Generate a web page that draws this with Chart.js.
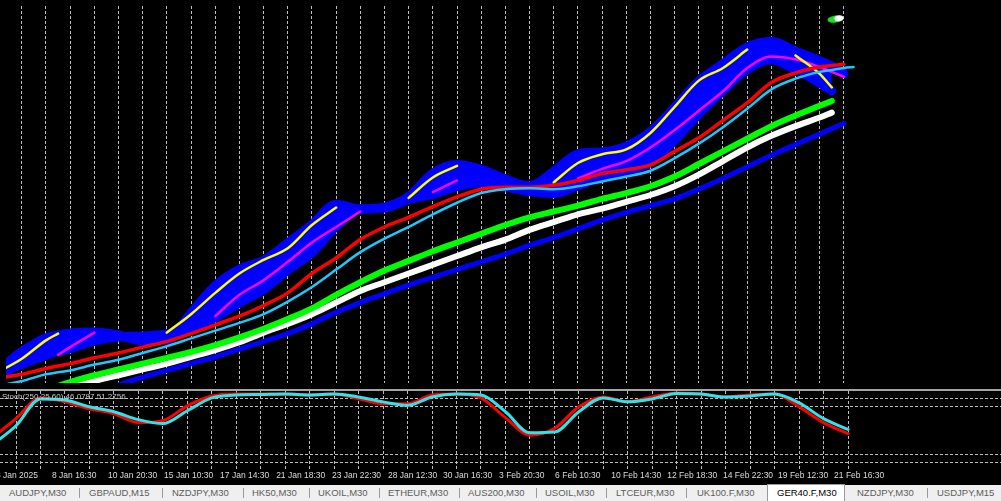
<!DOCTYPE html>
<html>
<head>
<meta charset="utf-8">
<script src="https://cdn.jsdelivr.net/npm/chart.js@4.4.1/dist/chart.umd.min.js"></script>
<style>
  html, body { margin:0; padding:0; background:#000; }
  #wrap { position:relative; width:1001px; height:501px; overflow:hidden; background:#000; }
  canvas { position:absolute; left:0; }
  #sep { position:absolute; left:0; top:389px; width:1001px; height:2px; background:#a4a4a4; }
  #stochLabel { position:absolute; left:2px; top:391px; font:8px "Liberation Sans", Arial, sans-serif; color:#c8c8c8; white-space:nowrap; line-height:12px; }
  #tabs { position:absolute; left:0; top:485px; width:1001px; height:16px; background:#efefef; font:9.5px "Liberation Sans", Arial, sans-serif; color:#5c5c5c; }
  #tabs .t { position:absolute; top:0; line-height:16px; white-space:nowrap; }
  #tabs .s { position:absolute; top:3px; width:1px; height:10px; background:#9a9a9a; }
  #tabs .a { position:absolute; top:-1px; height:17px; background:#fff; border:1px solid #9a9a9a; border-bottom:none; box-sizing:border-box; }
</style>
</head>
<body>
<div id="wrap">
  <canvas id="main" width="1001" height="389" style="top:0"></canvas>
  <div id="sep"></div>
  <canvas id="stoch" width="1001" height="93" style="top:391px"></canvas>
  <div id="stochLabel">Stoch(250,25,60) 46.0787 51.2756</div>
  <div id="tabs">
    <span class="t" style="left:9px">AUDJPY,M30</span>
    <span class="s" style="left:79px"></span>
    <span class="t" style="left:89px">GBPAUD,M15</span>
    <span class="s" style="left:162px"></span>
    <span class="t" style="left:172px">NZDJPY,M30</span>
    <span class="s" style="left:243px"></span>
    <span class="t" style="left:252px">HK50,M30</span>
    <span class="s" style="left:309px"></span>
    <span class="t" style="left:318px">UKOIL,M30</span>
    <span class="s" style="left:379px"></span>
    <span class="t" style="left:388px">ETHEUR,M30</span>
    <span class="s" style="left:459px"></span>
    <span class="t" style="left:468px">AUS200,M30</span>
    <span class="s" style="left:536px"></span>
    <span class="t" style="left:545px">USOIL,M30</span>
    <span class="s" style="left:606px"></span>
    <span class="t" style="left:616px">LTCEUR,M30</span>
    <span class="s" style="left:686px"></span>
    <span class="t" style="left:697px">UK100.F,M30</span>
    <span class="a" style="left:767px;width:78px"></span>
    <span class="t" style="left:777px;color:#000">GER40.F,M30</span>
    <span class="t" style="left:857px">NZDJPY,M30</span>
    <span class="s" style="left:927px"></span>
    <span class="t" style="left:937px">USDJPY,M15</span>
  </div>
</div>
<script>
// ---------- DATA ----------
const _ = null;
// bar positions (x) for main chart series
const bars = [-1,0,1,1.5,2,3,4,5,6,7,8,9,10,11,12,13,14,15,16,17,18,19,20,21,22,23,24,25,26,27,28,29,30,31,32,33,33.5,34,34.4];

// fast-MA ribbon (blue band) upper and lower edges
const ribbonTop = [19988,20148,20260,20284,20300,20308,20284,20236,20244,20468,20692,20828,20900,21044,21196,21364,21324,21340,21428,21620,21692,21652,21572,21516,21636,21780,21796,21844,21964,22164,22380,22524,22660,22708,22628,22548,22504,22444,_];
const ribbonBottom = [19956,20044,20116,20148,20172,20236,20268,20276,20292,20340,20428,20548,20660,20820,20964,21180,21324,21332,21404,21444,21508,21540,21508,21468,21452,21516,21596,21636,21708,21892,22108,22300,22476,22556,22476,22364,22300,_,_];
const magentaMA = [_,_,_,20120,20184,20304,_,_,_,_,20440,20616,20736,20888,21048,21176,21304,_,_,21464,21560,_,_,_,_,21576,21656,21720,21832,21976,22136,22296,22488,22584,22560,22496,22456,22416,_];
const yellowMA = [19976,20088,20240,20296,_,_,_,_,20304,20456,20632,20792,20904,21000,21192,21336,_,_,21416,21584,21680,_,_,_,21544,21704,21776,21816,21952,22168,22384,22488,22640,_,22592,22440,22328,_,_];
const redMA = [19928,19960,20008,20028,20048,20096,20136,20184,20232,20296,20368,20440,20528,20632,20792,20920,21072,21176,21256,21344,21424,21488,21504,21504,21520,21560,21616,21648,21688,21800,21912,22056,22200,22368,22448,22496,22508,22520,_];
const skyMA = [19864,19904,19960,19976,19992,20040,20080,20136,20192,20256,20320,20384,20456,20560,20680,20824,20968,21080,21176,21280,21376,21456,21488,21496,21488,21512,21552,21592,21640,21744,21864,22000,22152,22312,22400,22456,22472,22488,22496];
const greenMA = [19704,19768,19832,19864,19896,19952,20000,20048,20096,20144,20200,20264,20336,20416,20504,20616,20720,20816,20896,20976,21048,21120,21192,21256,21304,21352,21408,21456,21512,21592,21696,21800,21904,22008,22096,22176,22216,_,_];
const whiteMA = [19640,19704,19776,19808,19848,19904,19952,20000,20048,20104,20160,20224,20304,20376,20456,20552,20648,20720,20792,20864,20936,21008,21072,21152,21216,21280,21328,21384,21440,21512,21608,21720,21832,21928,22008,22080,22120,_,_];
const blueMA = [19480,19560,19640,19680,19720,19800,19872,19936,19992,20048,20104,20168,20232,20296,20376,20472,20552,20624,20696,20760,20824,20888,20952,21024,21088,21160,21232,21296,21352,21408,21488,21576,21672,21768,21856,21944,21988,22032,_];

// object marker near the top right
const markerBar = [33.67];
const markerPrice = [22892];

// stochastic sub-window
const stochBars = [-1,0,1,2,3,4,5,6,7,8,9,10,11,12,13,14,15,16,17,18,19,20,21,22,23,24,25,26,27,28,29,30,31,32,33,34];
const stochMain = [40,65,91.25,86.25,77.5,71.25,60,62.5,81.25,93.75,96.25,96.25,96.25,95,96.25,90,83.75,83.75,95,96.25,91.25,66.25,44,52.5,80,92.5,86.25,92.5,97.5,96.25,92.5,95,96.25,80,60,46.08];
const stochSignal = [31.25,56,90,88.75,80,73.75,63.75,58.75,75,91.25,95,95.6,96.25,95,96.25,92.5,86.25,81.9,92.5,96.25,95,73.75,47,48,73.75,91.25,86.25,90,96.9,96.25,92.5,93.75,96.25,85,65,51.28];
const stochLevels = [10, 20, 80, 90];

// time axis
const timeLabels = ["3 Jan 2025","8 Jan 16:30","10 Jan 20:30","15 Jan 10:30","17 Jan 14:30","21 Jan 18:30","23 Jan 22:30","28 Jan 12:30","30 Jan 16:30","3 Feb 20:30","6 Feb 10:30","10 Feb 14:30","12 Feb 18:30","14 Feb 22:30","19 Feb 12:30","21 Feb 16:30"];
const labelAt = [-0.82,1.47,3.76,6.05,8.34,10.63,12.91,15.20,17.45,19.74,22.03,24.32,26.61,28.89,31.14,33.43];
const gridBars = Array.from({length: 35}, (v, i) => i);

// view range
const X_MIN = -0.654, X_MAX = 40.25;
const PRICE_MIN = 19888, PRICE_MAX = 23000;

// ---------- HELPERS ----------
const pts = (xs, ys) => xs.map((x, i) => ({x: x, y: ys[i]}));
const GRID = '#bdbdbd';
const DASH = [3, 2];
const zeroFit = ax => { ax.paddingLeft = 0; ax.paddingRight = 0; ax.paddingTop = 0; ax.paddingBottom = 0; };
function line(data, color, width, order, extra) {
  return Object.assign({ data: data, borderColor: color, backgroundColor: color, borderWidth: width,
    order: order, pointRadius: 0, spanGaps: false, fill: false,
    borderCapStyle: 'round', borderJoinStyle: 'round', cubicInterpolationMode: 'monotone' }, extra || {});
}
function blobImage() {
  const c = document.createElement('canvas'); c.width = 18; c.height = 10;
  const g = c.getContext('2d');
  g.fillStyle = '#1fdc2a'; g.beginPath(); g.ellipse(8.5, 5, 8, 3.6, -0.12, 0, Math.PI * 2); g.fill();
  g.fillStyle = '#ffffff'; g.beginPath(); g.ellipse(12, 4.3, 4.6, 3, -0.12, 0, Math.PI * 2); g.fill();
  return c;
}

// ---------- MAIN CHART ----------
new Chart(document.getElementById('main'), {
  type: 'line',
  data: { datasets: [
    line(pts(bars, ribbonTop), '#0000ff', 9, 10, {spanGaps: true}),
    line(pts(bars, ribbonBottom), '#0000ff', 9, 9, {spanGaps: true, fill: '-1'}),
    line(pts(bars, magentaMA), '#ff00ff', 2.5, 8),
    line(pts(bars, yellowMA), '#ffff00', 2.5, 7),
    line(pts(bars, blueMA), '#0000ff', 5, 6, {spanGaps: true}),
    line(pts(bars, whiteMA), '#ffffff', 6, 5, {spanGaps: true}),
    line(pts(bars, greenMA), '#00ff00', 6, 4, {spanGaps: true}),
    line(pts(bars, redMA), '#ff0000', 3.5, 2, {spanGaps: true}),
    line(pts(bars, skyMA), '#1ec8ff', 2.5, 1, {spanGaps: true}),
    { data: pts(markerBar, markerPrice), showLine: false, pointStyle: blobImage(), pointRadius: 5, order: 0 }
  ]},
  options: {
    responsive: false, animation: false, events: [],
    layout: { padding: 0 },
    plugins: { legend: { display: false }, tooltip: { enabled: false } },
    scales: {
      x: { type: 'linear', min: X_MIN, max: X_MAX, bounds: 'data',
           grid: { color: GRID, lineWidth: 1, drawTicks: false },
           border: { display: false, dash: DASH },
           ticks: { display: false },
           afterBuildTicks: ax => { ax.ticks = gridBars.map(v => ({value: v})); },
           afterFit: ax => { zeroFit(ax); ax.height = 0; } },
      y: { display: false, min: PRICE_MIN, max: PRICE_MAX }
    }
  }
});

// ---------- STOCHASTIC CHART ----------
new Chart(document.getElementById('stoch'), {
  type: 'line',
  data: { datasets: [
    line(pts(stochBars, stochMain), '#ff0000', 3, 1),
    line(pts(stochBars, stochSignal), '#2fe4e8', 3, 0)
  ]},
  options: {
    responsive: false, animation: false, events: [],
    layout: { padding: 0 },
    plugins: { legend: { display: false }, tooltip: { enabled: false } },
    scales: {
      x: { type: 'linear', min: X_MIN, max: X_MAX, bounds: 'data', position: 'bottom', weight: 0,
           grid: { color: GRID, lineWidth: 1, drawTicks: false },
           border: { display: false, dash: DASH },
           ticks: { display: false },
           afterBuildTicks: ax => { ax.ticks = gridBars.map(v => ({value: v})); },
           afterFit: ax => { zeroFit(ax); ax.height = 0; } },
      xt: { type: 'linear', axis: 'x', min: X_MIN, max: X_MAX, bounds: 'data', position: 'bottom', weight: 1,
            grid: { display: false, drawTicks: false },
            border: { display: false },
            ticks: { align: 'start', maxRotation: 0, minRotation: 0, autoSkip: false, padding: 1,
                     color: '#dcdcdc', font: { family: 'Liberation Sans', size: 8.5 },
                     callback: (v, i) => timeLabels[i] },
            afterBuildTicks: ax => { ax.ticks = labelAt.map(v => ({value: v})); },
            afterFit: ax => { zeroFit(ax); ax.height = 14; } },
      y: { min: 0, max: 100, position: 'right',
           grid: { color: GRID, lineWidth: 1, drawTicks: false },
           border: { display: false, dash: DASH },
           ticks: { display: false },
           afterBuildTicks: ax => { ax.ticks = stochLevels.map(v => ({value: v})); },
           afterFit: ax => { zeroFit(ax); ax.width = 0; } }
    }
  }
});
</script>
</body>
</html>
